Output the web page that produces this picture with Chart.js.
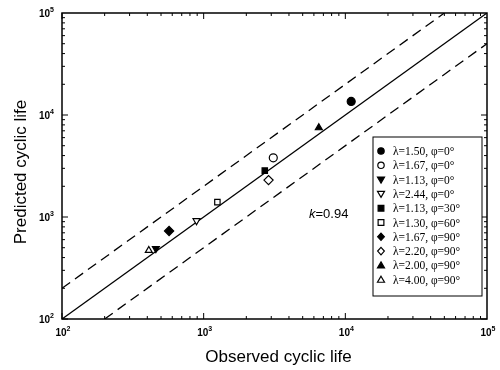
<!DOCTYPE html>
<html>
<head>
<meta charset="utf-8">
<script src="https://cdn.jsdelivr.net/npm/chart.js@4/dist/chart.umd.min.js"></script>
<style>
  html, body { margin: 0; padding: 0; background: #fff; }
  canvas { display: block; }
</style>
</head>
<body>
<canvas id="lifeChart" width="500" height="370"></canvas>
<script>
// Predicted vs observed cyclic life (log-log)
const seriesLabels = [
    'λ=1.50, φ=0°', 'λ=1.67, φ=0°', 'λ=1.13, φ=0°', 'λ=2.44, φ=0°', 'λ=1.13, φ=30°',
    'λ=1.30, φ=60°', 'λ=1.67, φ=90°', 'λ=2.20, φ=90°', 'λ=2.00, φ=90°', 'λ=4.00, φ=90°'
];
const observedLife = [11000, 3100, 460, 890, 2700, 1250, 570, 2870, 6500, 410];
const predictedLife = [13600, 3800, 490, 920, 2850, 1400, 730, 2300, 7500, 470];

// reference lines: y = x and the factor-of-two band
const idealX = [100, 100000];
const idealY = [100, 100000];
const upperX = [100, 50000];
const upperY = [200, 100000];
const lowerX = [200, 100000];
const lowerY = [100, 50000];

const axisMin = 100;
const axisMax = 100000;
const decadeExps = [2, 3, 4, 5];
const kLabel = '0.94';

// marker look for each series: [shape, filled]
const markerStyles = [
    ['circle', true], ['circle', false], ['down', true], ['down', false], ['rect', true],
    ['rect', false], ['diamond', true], ['diamond', false], ['triangle', true], ['triangle', false]
];

function drawMarker(ctx, shape, filled, x, y, r) {
    ctx.beginPath();
    if (shape === 'circle') {
        ctx.arc(x, y, r, 0, Math.PI * 2);
    } else if (shape === 'rect') {
        ctx.rect(x - r * 0.9, y - r * 0.9, r * 1.8, r * 1.8);
    } else if (shape === 'diamond') {
        ctx.moveTo(x, y - r * 1.15);
        ctx.lineTo(x + r * 1.05, y);
        ctx.lineTo(x, y + r * 1.15);
        ctx.lineTo(x - r * 1.05, y);
        ctx.closePath();
    } else if (shape === 'triangle') {
        ctx.moveTo(x, y - r * 1.1);
        ctx.lineTo(x + r * 1.1, y + r * 0.8);
        ctx.lineTo(x - r * 1.1, y + r * 0.8);
        ctx.closePath();
    } else if (shape === 'down') {
        ctx.moveTo(x, y + r * 1.1);
        ctx.lineTo(x + r * 1.1, y - r * 0.8);
        ctx.lineTo(x - r * 1.1, y - r * 0.8);
        ctx.closePath();
    }
    ctx.fillStyle = filled ? '#000' : '#fff';
    ctx.fill();
    ctx.lineWidth = 1.2;
    ctx.strokeStyle = '#000';
    ctx.stroke();
}

function powerLabel(ctx, exp, x, y, align) {
    ctx.font = 'bold 10px "Liberation Sans", Arial, sans-serif';
    const base = '10';
    const bw = ctx.measureText(base).width;
    ctx.font = 'bold 7px "Liberation Sans", Arial, sans-serif';
    const ew = ctx.measureText(String(exp)).width;
    let left = x;
    if (align === 'right') left = x - bw - ew;
    else if (align === 'center') left = x - (bw + ew) / 2;
    ctx.textAlign = 'left';
    ctx.textBaseline = 'middle';
    ctx.font = 'bold 10px "Liberation Sans", Arial, sans-serif';
    ctx.fillText(base, left, y);
    ctx.font = 'bold 7px "Liberation Sans", Arial, sans-serif';
    ctx.fillText(String(exp), left + bw, y - 4);
}

const framePlugin = {
    id: 'frame',
    afterDatasetsDraw(chart) {
        const { ctx, chartArea: a, scales } = chart;
        const xs = scales.x;
        const ys = scales.y;
        ctx.save();

        // plot frame
        ctx.strokeStyle = '#000';
        ctx.lineWidth = 1.5;
        ctx.strokeRect(a.left, a.top, a.right - a.left, a.bottom - a.top);

        // inward ticks on all four sides
        ctx.lineWidth = 1;
        ctx.beginPath();
        for (let d = 2; d <= 4; d++) {
            for (let m = 1; m <= 9; m++) {
                const v = m * Math.pow(10, d);
                const len = m === 1 ? 6 : 3;
                const px = xs.getPixelForValue(v);
                const py = ys.getPixelForValue(v);
                ctx.moveTo(px, a.bottom); ctx.lineTo(px, a.bottom - len);
                ctx.moveTo(px, a.top); ctx.lineTo(px, a.top + len);
                ctx.moveTo(a.left, py); ctx.lineTo(a.left + len, py);
                ctx.moveTo(a.right, py); ctx.lineTo(a.right - len, py);
            }
        }
        ctx.stroke();

        // tick labels
        ctx.fillStyle = '#000';
        decadeExps.forEach(e => {
            const v = Math.pow(10, e);
            powerLabel(ctx, e, a.left - 8, ys.getPixelForValue(v) + 1, 'right');
            powerLabel(ctx, e, xs.getPixelForValue(v) + 1, a.bottom + 14, 'center');
        });

        // axis titles
        ctx.font = '17px "Liberation Sans", Arial, sans-serif';
        ctx.textAlign = 'center';
        ctx.textBaseline = 'middle';
        ctx.fillText('Observed cyclic life', (a.left + a.right) / 2 + 4, a.bottom + 38);
        ctx.save();
        ctx.translate(21, (a.top + a.bottom) / 2 + 6);
        ctx.rotate(-Math.PI / 2);
        ctx.fillText('Predicted cyclic life', 0, 0);
        ctx.restore();

        // k annotation
        ctx.font = 'italic 13px "Liberation Sans", Arial, sans-serif';
        ctx.textAlign = 'left';
        const kx = 309;
        const ky = 214;
        ctx.fillText('k', kx, ky);
        const kw = ctx.measureText('k').width;
        ctx.font = '13px "Liberation Sans", Arial, sans-serif';
        ctx.fillText('=' + kLabel, kx + kw, ky);

        // legend box
        const lx = a.right - 114;
        const ly = a.top + 124;
        const lw = 109;
        const lh = 159;
        ctx.fillStyle = '#fff';
        ctx.fillRect(lx, ly, lw, lh);
        ctx.strokeStyle = '#000';
        ctx.lineWidth = 1;
        ctx.strokeRect(lx, ly, lw, lh);
        seriesLabels.forEach((label, i) => {
            const iy = ly + 14 + i * 14.3;
            const [shape, filled] = markerStyles[i];
            drawMarker(ctx, shape, filled, lx + 8, iy, 3.2);
            ctx.fillStyle = '#000';
            ctx.font = '11.5px "Liberation Serif", "Times New Roman", serif';
            ctx.textAlign = 'left';
            ctx.textBaseline = 'middle';
            ctx.fillText(label, lx + 20, iy + 1);
        });

        ctx.restore();
    }
};

const pointStyleMap = { circle: 'circle', rect: 'rect', diamond: 'rectRot', triangle: 'triangle', down: 'triangle' };

const pointDatasets = seriesLabels.map((label, i) => {
    const [shape, filled] = markerStyles[i];
    return {
        label: label,
        data: [{ x: observedLife[i], y: predictedLife[i] }],
        pointStyle: pointStyleMap[shape],
        rotation: shape === 'down' ? 180 : 0,
        pointRadius: shape === 'rect' ? 3.8 : (shape === 'diamond' ? 4.6 : 4),
        backgroundColor: filled ? '#000' : '#fff',
        borderColor: '#000',
        borderWidth: 1.2,
        order: 0
    };
});

function linePoints(xv, yv) {
    return xv.map((x, i) => ({ x: x, y: yv[i] }));
}

const lineDatasets = [
    { label: 'ideal', data: linePoints(idealX, idealY), borderDash: [] },
    { label: 'upper', data: linePoints(upperX, upperY), borderDash: [10, 6] },
    { label: 'lower', data: linePoints(lowerX, lowerY), borderDash: [10, 6] }
].map(ds => Object.assign(ds, {
    showLine: true,
    pointRadius: 0,
    borderColor: '#000',
    borderWidth: 1.3,
    fill: false,
    order: 1
}));

new Chart(document.getElementById('lifeChart'), {
    type: 'scatter',
    data: { datasets: lineDatasets.concat(pointDatasets) },
    options: {
        responsive: false,
        animation: false,
        layout: { padding: { left: 62, right: 13, top: 13, bottom: 51 } },
        plugins: {
            legend: { display: false },
            tooltip: { enabled: false }
        },
        scales: {
            x: { type: 'logarithmic', min: axisMin, max: axisMax, display: false },
            y: { type: 'logarithmic', min: axisMin, max: axisMax, display: false }
        }
    },
    plugins: [framePlugin]
});
</script>
</body>
</html>
